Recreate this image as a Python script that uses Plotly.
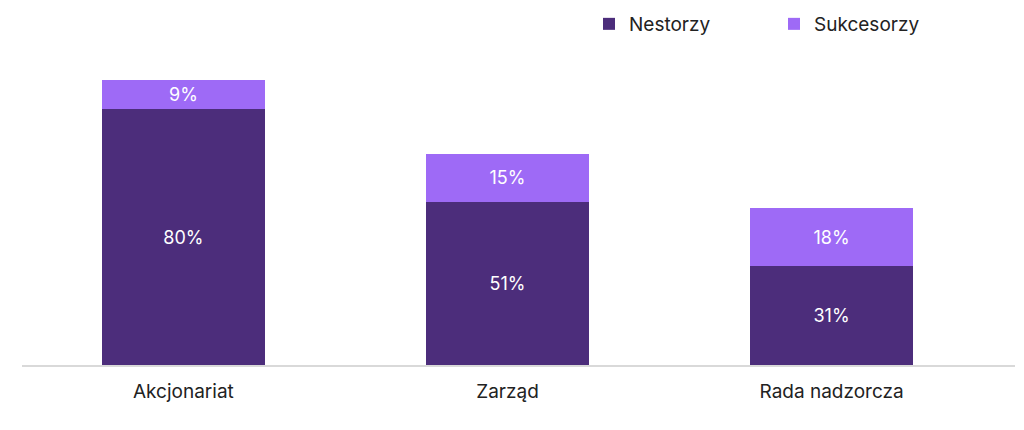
import plotly.graph_objects as go

categories = ["Akcjonariat", "Zarząd", "Rada nadzorcza"]
nestorzy = [80, 51, 31]
sukcesorzy = [9, 15, 18]

dark = "#4C2D7B"
light = "#9E6AF6"

fig = go.Figure()
fig.add_trace(go.Bar(
    x=categories, y=nestorzy, name="Nestorzy",
    marker=dict(color=dark, line=dict(width=0)),
    text=[f"{v}%" for v in nestorzy], textposition="inside",
    insidetextanchor="middle", width=0.503,
    textfont=dict(color="white", size=18),
))
fig.add_trace(go.Bar(
    x=categories, y=sukcesorzy, name="Sukcesorzy",
    marker=dict(color=light, line=dict(width=0)),
    text=[f"{v}%" for v in sukcesorzy], textposition="inside",
    insidetextanchor="middle", width=0.503,
    textfont=dict(color="white", size=18),
))

fig.update_layout(
    barmode="stack",
    width=1024, height=430,
    margin=dict(l=14, r=17, t=37, b=73, autoexpand=False),
    plot_bgcolor="white", paper_bgcolor="white",
    font=dict(family="Inter", size=19, color="#222222"),
    uniformtext=dict(mode="show", minsize=18),
    legend=dict(
        orientation="h", x=0.571, y=1.125, xanchor="left", yanchor="top",
        font=dict(size=19, color="#222222"),
        itemwidth=30, entrywidth=140, traceorder="normal",
        tracegroupgap=0,
    ),
    xaxis=dict(
        range=[-0.498, 2.566], showgrid=False, showline=True,
        linecolor="#d9d9d9", linewidth=2, ticks="", tickfont=dict(size=19),
        ticklabelstandoff=8,
    ),
    yaxis=dict(range=[0, 100], visible=False),
    showlegend=True,
)

fig.write_html("out.html")
